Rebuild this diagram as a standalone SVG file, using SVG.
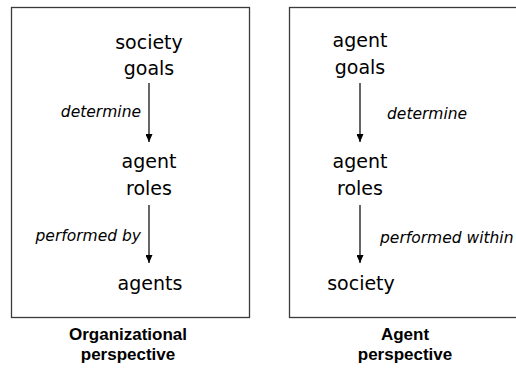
<svg xmlns="http://www.w3.org/2000/svg" width="516" height="370" viewBox="0 0 516 370">
  <style>
    .frame { fill: #ffffff; stroke: #3a3a3a; stroke-width: 1.3; }
    .node { font-family: "DejaVu Sans", Verdana, sans-serif; font-size: 19px; fill: #000; text-anchor: middle; }
    .label { font-family: "DejaVu Sans", Verdana, sans-serif; font-size: 15.5px; font-style: italic; fill: #000; }
    .caption { font-family: "Liberation Sans", Arial, sans-serif; font-size: 17px; font-weight: bold; fill: #000; text-anchor: middle; }
    .edge { stroke: #000; stroke-width: 1.2; fill: none; marker-end: url(#head); }
  </style>
  <defs>
    <marker id="head" viewBox="0 0 8 7" refX="8" refY="3.5" markerWidth="8" markerHeight="7" markerUnits="userSpaceOnUse" orient="auto">
      <path d="M0,0 L8,3.5 L0,7 Z" fill="#000"/>
    </marker>
  </defs>

  <!-- panels -->
  <rect class="frame" x="11.5" y="7.5" width="238" height="310"/>
  <rect class="frame" x="289.5" y="7.5" width="240" height="310"/>

  <!-- organizational perspective -->
  <g id="org-society-goals">
    <text class="node" x="149" y="49">society</text>
    <text class="node" x="149" y="75">goals</text>
  </g>
  <g id="org-agent-roles">
    <text class="node" x="149" y="168">agent</text>
    <text class="node" x="149" y="195">roles</text>
  </g>
  <g id="org-agents">
    <text class="node" x="150" y="290">agents</text>
  </g>

  <!-- agent perspective -->
  <g id="ag-agent-goals">
    <text class="node" x="360" y="47">agent</text>
    <text class="node" x="360" y="74">goals</text>
  </g>
  <g id="ag-agent-roles">
    <text class="node" x="360" y="168">agent</text>
    <text class="node" x="360" y="195">roles</text>
  </g>
  <g id="ag-society">
    <text class="node" x="361" y="290">society</text>
  </g>

  <g id="connectors">
    <line class="edge" x1="149" y1="83" x2="149" y2="142"/>
    <line class="edge" x1="149" y1="205" x2="149" y2="263"/>
    <line class="edge" x1="360" y1="83" x2="360" y2="142"/>
    <line class="edge" x1="360" y1="205" x2="360" y2="263"/>
    <text class="label" x="141" y="117" text-anchor="end">determine</text>
    <text class="label" x="141" y="241" text-anchor="end">performed by</text>
    <text class="label" x="387" y="119">determine</text>
    <text class="label" x="380" y="243">performed within</text>
  </g>

  <!-- captions -->
  <g id="caption-org">
    <text class="caption" x="128" y="340">Organizational</text>
    <text class="caption" x="128" y="360">perspective</text>
  </g>
  <g id="caption-agent">
    <text class="caption" x="405" y="340">Agent</text>
    <text class="caption" x="405" y="360">perspective</text>
  </g>
</svg>
